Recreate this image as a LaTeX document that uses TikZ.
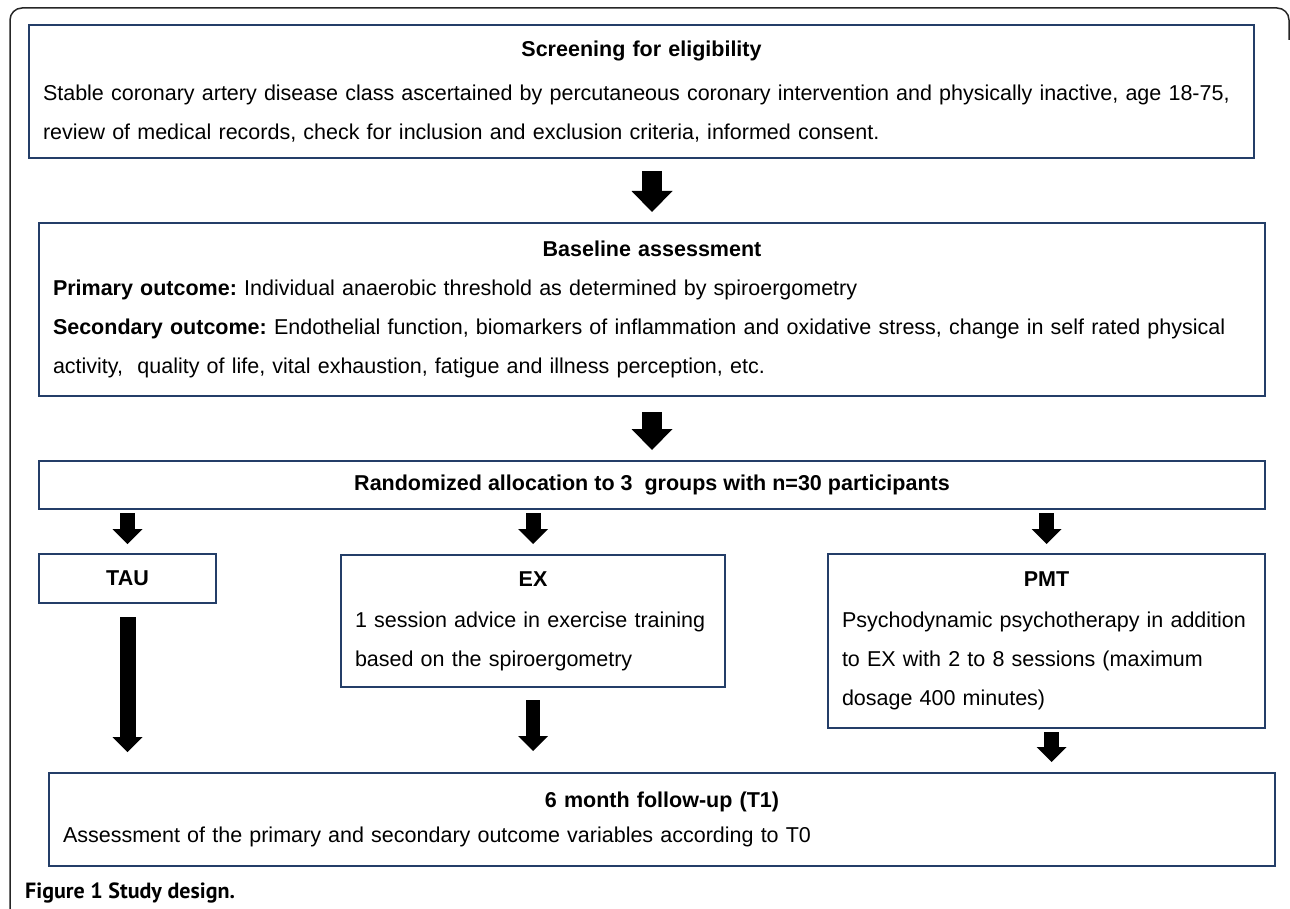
\documentclass[tikz,border=0pt]{standalone}
\usepackage{fontspec}
\setmainfont{Liberation Sans}
\newfontfamily\capfont{PT Sans}
\usetikzlibrary{%
  positioning
 ,arrows.meta
 ,calc
}
\frenchspacing
\definecolor{boxblue}{RGB}{36,62,104}
\tikzstyle{box}=[draw=boxblue,line width=2.5pt,anchor=north west,outer sep=0pt,inner xsep=14pt,inner ysep=0pt,align=left,font=\fontsize{21.5pt}{39pt}\selectfont]
\tikzstyle{bigarr}=[line width=20pt,-{Triangle[width=41pt,length=21pt,line width=0pt]}]
\newcommand\boxhead[1]{\makebox[\linewidth][c]{\bfseries #1}}

\begin{document}
\begin{tikzpicture}[x=1pt,y=-1pt,%
    every edge/.style={draw,line width=15pt,-{Triangle[width=30pt,length=15pt,line width=0pt]}}]
  \useasboundingbox (0,0) rectangle (1290,909);
  % the frame
  \draw[line width=1.5pt,black!85,rounded corners=12pt] (10,915)--(10,8)--(1289,8)--(1289,40);
  % the boxes
  \node[box,minimum width=1225pt,minimum height=133pt,text width=1197pt](screen)at(29,25){%
    \boxhead{Screening for eligibility}\\[5pt]
    Stable coronary artery disease class ascertained by percutaneous coronary intervention and physically inactive, age 18-75,\\
    review of medical records, check for inclusion and exclusion criteria, informed consent.};
  \node[box,minimum width=1226pt,minimum height=173pt,text width=1198pt](base)at(39,223){%
    \boxhead{Baseline assessment}\\
    \textbf{Primary outcome:} Individual anaerobic threshold as determined by spiroergometry\\
    \textbf{Secondary outcome:} Endothelial function, biomarkers of inflammation and oxidative stress, change in self rated physical\\
    activity, \ quality of life, vital exhaustion, fatigue and illness perception, etc.};
  \node[box,minimum width=1226pt,minimum height=48pt](rand)at(39,461){\bfseries Randomized allocation to 3~ groups with n=30 participants};
  % the three groups
  \node[box,minimum width=177pt,minimum height=49pt](tau)at(39,554){\bfseries TAU};
  \node[box,minimum width=384pt,minimum height=132pt,text width=356pt](ex)at(341,555){%
    \boxhead{EX}\\[2pt]
    1 session advice in exercise training\\
    based on the spiroergometry};
  \node[box,minimum width=437pt,minimum height=174pt,text width=409pt](pmt)at(828,554){%
    \boxhead{PMT}\\[2pt]
    Psychodynamic psychotherapy in addition\\
    to EX with 2 to 8 sessions (maximum\\
    dosage 400 minutes)};
  \node[box,minimum width=1226pt,minimum height=93pt,text width=1198pt](fu)at(49,773){%
    \boxhead{6 month follow-up (T1)}\\[-4pt]
    Assessment of the primary and secondary outcome variables according to T0};
  % the caption
  \node[anchor=base west,inner sep=0pt,font=\capfont\bfseries\fontsize{22pt}{22pt}\selectfont](cap)at(25,898){Figure 1 Study design.};
  % the arrows
  \path (screen.south -| base.north) edge[bigarr,shorten <=13pt,shorten >=11pt] (base.north)
        (base.south) edge[bigarr,shorten <=16pt,shorten >=11pt] (rand.north);
  \path (rand.south -| tau.north) edge[shorten <=4pt,shorten >=10pt] (tau.north)
        (rand.south -| ex.north) edge[shorten <=4pt,shorten >=11pt] (ex.north)
        (rand.south -| pmt.north) edge[shorten <=4pt,shorten >=10pt] (pmt.north);
  \path (tau.south) edge[line width=16pt,shorten <=14pt,shorten >=21pt] (tau.south |- fu.north)
        (ex.south) edge[line width=14pt,shorten <=13pt,shorten >=22pt] (ex.south |- fu.north)
        ([xshift=5pt]pmt.south) edge[shorten <=4pt,shorten >=11pt] ([xshift=5pt]pmt.south |- fu.north);
\end{tikzpicture}
\end{document}
